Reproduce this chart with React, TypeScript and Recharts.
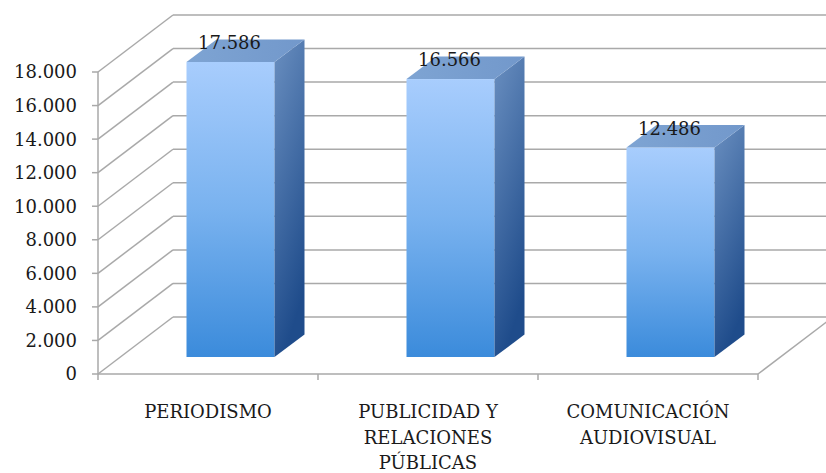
import React from 'react';
import { BarChart, Bar, XAxis, YAxis, CartesianGrid, LabelList } from 'recharts';

const categories = ['PERIODISMO', 'PUBLICIDAD Y RELACIONES PÚBLICAS', 'COMUNICACIÓN AUDIOVISUAL'];
const students = [17586, 16566, 12486];
const yTicks = [0, 2000, 4000, 6000, 8000, 10000, 12000, 14000, 16000, 18000];

const data = categories.map((name, i) => ({ name, value: students[i] }));

// 3D geometry: back wall offset and bar placement inside the depth
const WALL_DX = 75;
const WALL_DY = -57;
const BAR_OX = 22.5;
const BAR_OY = -17;
const BAR_DX = 30;
const BAR_DY = -22.5;

const GRID = '#a9a9a9';
const FONT = '"DejaVu Serif", serif';

function fmt(n: number) {
  return String(n).replace(/\B(?=(\d{3})+(?!\d))/g, '.');
}

function wrap(label: string, max = 12) {
  const lines: string[] = [];
  let cur = '';
  label.split(' ').forEach((w) => {
    const next = cur ? `${cur} ${w}` : w;
    if (next.length > max && cur) {
      lines.push(cur);
      cur = w;
    } else {
      cur = next;
    }
  });
  if (cur) lines.push(cur);
  return lines;
}

// eslint-disable-next-line @typescript-eslint/no-explicit-any
function GridLine(props: any) {
  const { x1, y1, x2, y, height } = props;
  const isFloor = Math.abs(y1 - (y + height)) < 0.5;
  return (
    <g stroke={GRID} strokeWidth={1.5} fill="none">
      <line x1={x1} y1={y1} x2={x1 + WALL_DX} y2={y1 + WALL_DY} />
      <line x1={x1 + WALL_DX} y1={y1 + WALL_DY} x2={x2 + WALL_DX} y2={y1 + WALL_DY} />
      {isFloor && (
        <>
          <line x1={x1} y1={y1} x2={x2} y2={y1} />
          <line x1={x2} y1={y1} x2={x2 + WALL_DX} y2={y1 + WALL_DY} />
        </>
      )}
    </g>
  );
}

// eslint-disable-next-line @typescript-eslint/no-explicit-any
function FloorTick(props: any) {
  const { x1, y2 } = props;
  return <line x1={x1} y1={y2} x2={x1} y2={y2 + 6} stroke={GRID} strokeWidth={1.5} />;
}

// eslint-disable-next-line @typescript-eslint/no-explicit-any
function Box(props: any) {
  const { x, y, width, height } = props;
  if (!height) return null;
  const fx = x + BAR_OX;
  const fy = y + BAR_OY;
  const top = `${fx},${fy} ${fx + width},${fy} ${fx + width + BAR_DX},${fy + BAR_DY} ${fx + BAR_DX},${fy + BAR_DY}`;
  const side = `${fx + width},${fy} ${fx + width + BAR_DX},${fy + BAR_DY} ${fx + width + BAR_DX},${fy + height + BAR_DY} ${fx + width},${fy + height}`;
  return (
    <g>
      <rect x={fx} y={fy} width={width} height={height} fill="url(#frontGrad)" />
      <polygon points={side} fill="url(#sideGrad)" />
      <polygon points={top} fill="url(#topGrad)" />
    </g>
  );
}

// eslint-disable-next-line @typescript-eslint/no-explicit-any
function ValueLabel(props: any) {
  const { x, y, width, value } = props;
  return (
    <text
      x={x + BAR_OX + width / 2 - 1}
      y={y + BAR_OY - 13}
      textAnchor="middle"
      fill="#1a1a1a"
      fontSize={18}
      fontFamily={FONT}
    >
      {fmt(value)}
    </text>
  );
}

// eslint-disable-next-line @typescript-eslint/no-explicit-any
function CategoryTick({ x, y, payload }: any) {
  const lines = wrap(payload.value);
  return (
    <text x={x} y={y} textAnchor="middle" fill="#1a1a1a" fontSize={18} fontFamily={FONT}>
      {lines.map((l, i) => (
        <tspan key={l} x={x} dy={i === 0 ? 36 : 25.5}>
          {l}
        </tspan>
      ))}
    </text>
  );
}

export default function App() {
  return (
    <div style={{ width: 826, height: 473, background: '#fff' }}>
      <style>{'body{margin:0}'}</style>
      <BarChart
        width={826}
        height={473}
        data={data}
        margin={{ top: 72, right: 68, bottom: 0, left: 0 }}
        barCategoryGap="30%"
      >
        <defs>
          <linearGradient id="frontGrad" x1="0" y1="0" x2="0" y2="1">
            <stop offset="0%" stopColor="#a8cdfd" />
            <stop offset="50%" stopColor="#79b2ef" />
            <stop offset="100%" stopColor="#3b8bdb" />
          </linearGradient>
          <linearGradient id="sideGrad" x1="0" y1="0" x2="0.3" y2="1">
            <stop offset="0%" stopColor="#6a8fc0" />
            <stop offset="100%" stopColor="#1f4c8b" />
          </linearGradient>
          <linearGradient id="topGrad" x1="0" y1="0" x2="1" y2="0">
            <stop offset="0%" stopColor="#7ea4d3" />
            <stop offset="100%" stopColor="#7298cb" />
          </linearGradient>
        </defs>
        <CartesianGrid
          horizontal={(p: any) => <GridLine {...p} />}
          vertical={(p: any) => <FloorTick {...p} />}
          verticalCoordinatesGenerator={({ offset }: any) =>
            categories.map((_, i) => offset.left + (i * offset.width) / categories.length).concat(offset.left + offset.width)
          }
        />
        <XAxis
          dataKey="name"
          height={99}
          axisLine={false}
          tickLine={false}
          interval={0}
          tick={<CategoryTick />}
        />
        <YAxis
          width={98}
          domain={[0, 18000]}
          ticks={yTicks}
          tickFormatter={fmt}
          axisLine={{ stroke: GRID, strokeWidth: 1.5 }}
          tickLine={{ stroke: GRID, strokeWidth: 1.5 }}
          tickSize={6}
          tickMargin={15}
          tick={{ fill: '#1a1a1a', fontSize: 18, fontFamily: FONT }}
        />
        <Bar dataKey="value" shape={<Box />} isAnimationActive={false}>
          <LabelList dataKey="value" content={<ValueLabel />} />
        </Bar>
      </BarChart>
    </div>
  );
}
